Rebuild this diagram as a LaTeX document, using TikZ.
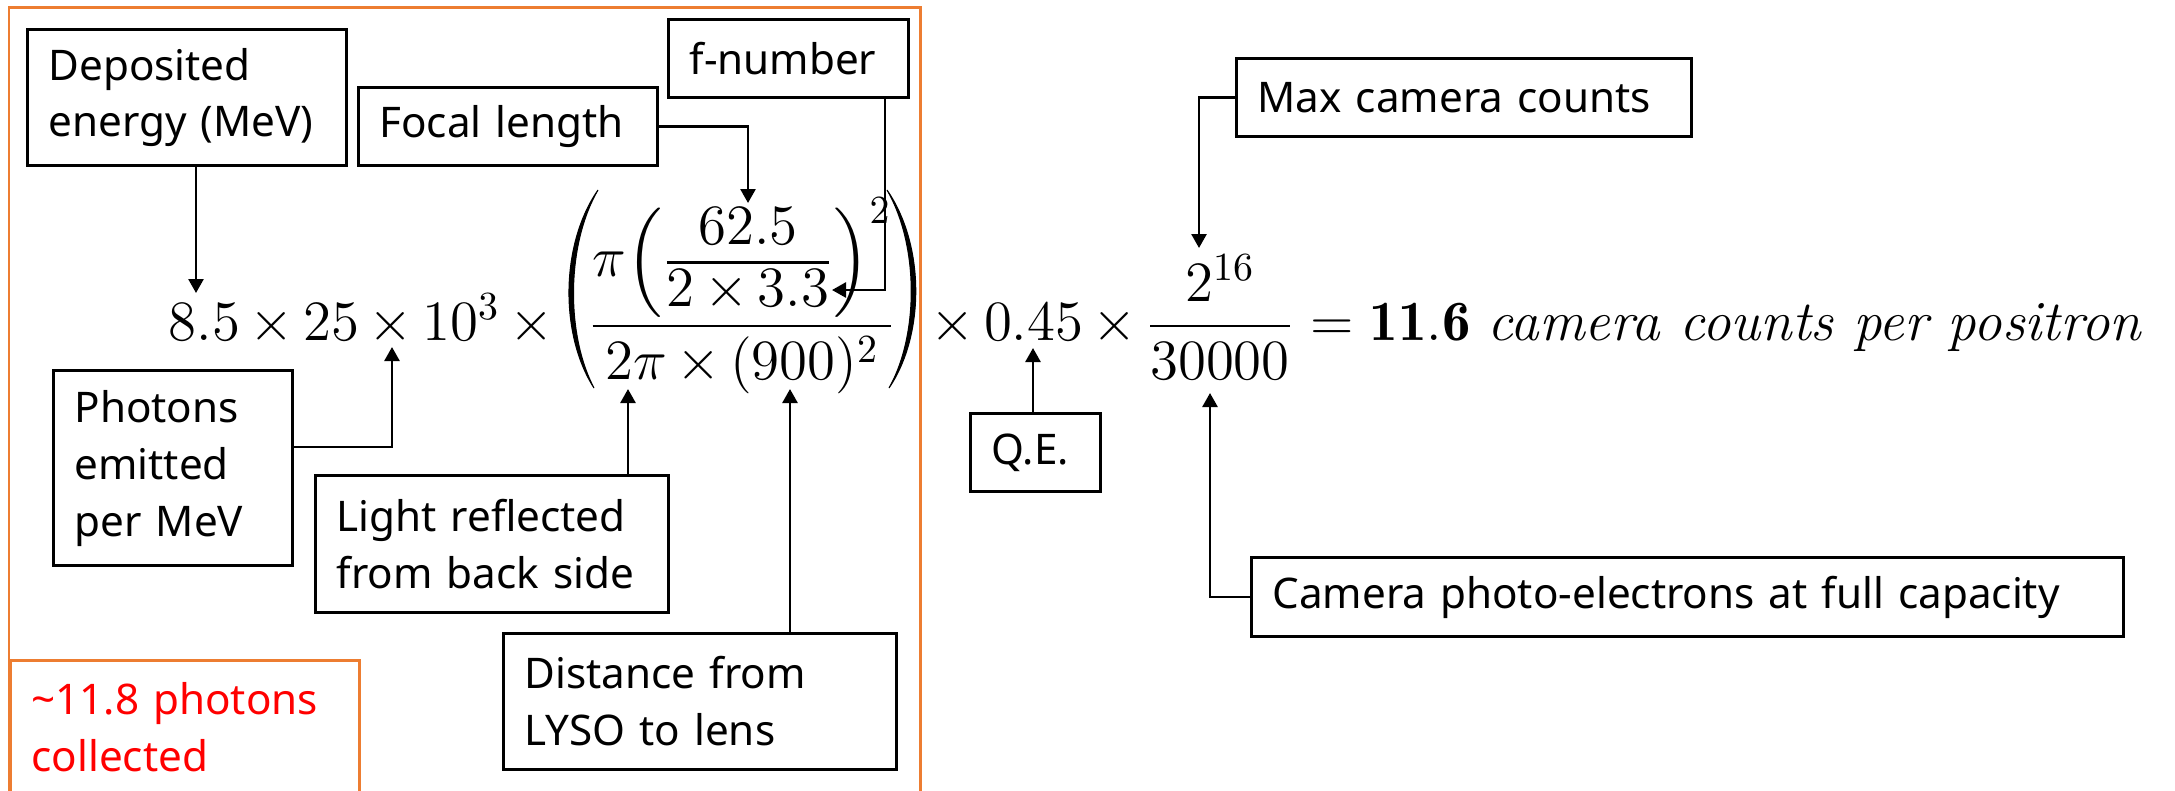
\RequirePackage{fix-cm}
\documentclass[tikz,border=0pt]{standalone}
\usepackage{amsmath}
\usepackage{fontspec}
\newfontfamily\boxfont{Noto Sans}
\newcommand{\eqnfont}{\fontsize{16.2pt}{19pt}\selectfont\medmuskip=3mu\relax}
\usetikzlibrary{arrows.meta,calc}
\definecolor{accentorange}{RGB}{237,125,49}
\definecolor{notered}{RGB}{255,0,0}
\tikzset{
  labelbox/.style={draw,line width=0.85pt,anchor=north west,align=left,
    font=\boxfont\fontsize{12pt}{16.2pt}\selectfont,inner xsep=0.21cm,inner ysep=0pt},
  pointer/.style={line width=0.75pt,-{Triangle[length=0.14cm,width=0.15cm]}},
  eqn/.style={font=\eqnfont,inner sep=0pt},
  bigparen/.style={fill=black,draw=black,line width=0.3pt}
}

\begin{document}
\begin{tikzpicture}[x=0.01cm,y=-0.01cm]
\useasboundingbox (0,0) rectangle (2175,790);

% orange frames
\draw[accentorange,line width=0.85pt] (9,7) rectangle (920,805);
\node[labelbox,draw=accentorange,text=notered,text width=3.07cm,inner ysep=0.22cm] (collected) at (9,659) {\textasciitilde11.8 photons\\collected};

% the formula
\node[eqn,anchor=base west] (lhs) at (168,340) {$8.5\times25\times10^{3}\times{}$};
\node[eqn,anchor=base] (bigfrac) at (742,340) {$\dfrac{\pi\Bigl({\textstyle\frac{\displaystyle 62.5\rule[-4pt]{0pt}{4pt}}{\displaystyle\rule{0pt}{11.5pt}2\times3.3}}\Bigr)^{2}}{2\pi\times(900)^{2}}$};
\node[eqn,anchor=base west] (mid) at (920,340) {${}\times0.45\times{}$};
\node[eqn,anchor=base] (cntfrac) at (1220,340) {$\dfrac{2^{16}}{30000}$};
\node[eqn,anchor=base west] (result) at (1294,340) {${}=\mathbf{11.6}$ \textit{camera counts per positron}};
% large parentheses round the fraction
\filldraw[bigparen] (598,190) .. controls (560,245) and (560,335) .. (594,388)
  .. controls (566,335) and (566,245) .. (598,190) -- cycle;
\filldraw[bigparen] (887,190) .. controls (925,245) and (925,335) .. (889,388)
  .. controls (919,335) and (919,245) .. (887,190) -- cycle;

% where the pointers end
\coordinate (t85) at (196,293);
\coordinate (tx2) at (392,347);
\coordinate (pbend) at (392,447);
\coordinate (t625) at (748,203);
\coordinate (fbend) at (885,290);
\coordinate (t33) at (832,290);
\coordinate (t2pi) at (628,389);
\coordinate (t900) at (790,389);
\coordinate (t045) at (1033,348);
\coordinate (t216) at (1199,248);
\coordinate (t30k) at (1210,393);

% label boxes
\node[labelbox,text width=2.77cm,minimum height=1.36cm] (dep) at (26,28) {Deposited\\energy (MeV)};
\node[labelbox,text width=2.57cm,minimum height=0.78cm] (focal) at (357,86) {Focal length};
\node[labelbox,text width=1.98cm,minimum height=0.78cm] (fnum) at (667,18) {f-number};
\node[labelbox,text width=4.13cm,minimum height=0.78cm] (maxc) at (1235,57) {Max camera counts};
\node[labelbox,text width=1.97cm,minimum height=1.95cm] (phot) at (52,369) {Photons\\emitted\\per MeV};
\node[labelbox,text width=3.11cm,minimum height=1.37cm] (light) at (314,474) {Light reflected\\from back side};
\node[labelbox,text width=3.51cm,minimum height=1.36cm] (dist) at (502,632) {Distance from\\LYSO to lens};
\node[labelbox,text width=0.88cm,minimum height=0.78cm] (qe) at (969,412) {Q.E.};
\node[labelbox,text width=8.29cm,minimum height=0.79cm] (cam) at (1250,556) {Camera photo-electrons at full capacity};

% pointers
\draw[pointer] (t85 |- dep.south) -- (t85);
\draw[pointer] (focal.east) -| (t625);
\draw[pointer] (fbend |- fnum.south) -- (fbend) -- (t33);
\draw[pointer] (maxc.west) -| (t216);
\draw[pointer] (pbend -| phot.east) -- (pbend) -- (tx2);
\draw[pointer] (t2pi |- light.north) -- (t2pi);
\draw[pointer] (t900 |- dist.north) -- (t900);
\draw[pointer] (t045 |- qe.north) -- (t045);
\draw[pointer] (cam.west) -| (t30k);
\end{tikzpicture}
\end{document}
